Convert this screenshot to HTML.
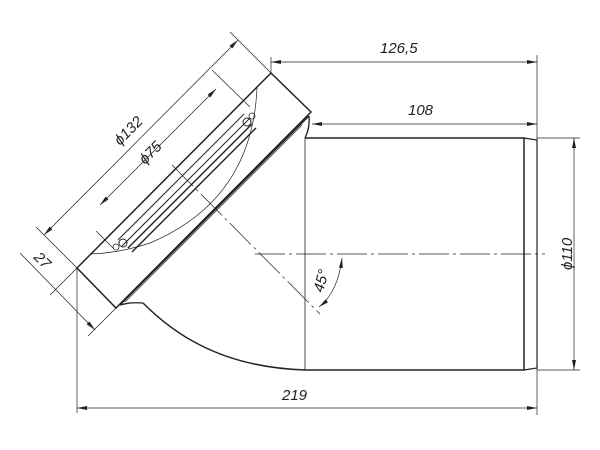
<!DOCTYPE html>
<html><head><meta charset="utf-8"><style>body{margin:0;background:#fff}svg{display:block}</style></head>
<body>
<svg width="600" height="450" viewBox="0 0 600 450" xmlns="http://www.w3.org/2000/svg" font-family="Liberation Sans, sans-serif" font-style="italic">
<defs>
<marker id="a" viewBox="0 0 10 4" refX="10" refY="2" markerWidth="10" markerHeight="4" orient="auto-start-reverse" markerUnits="userSpaceOnUse"><path d="M0,0L10,2L0,4z" fill="#222"/></marker>
</defs>
<g stroke="#222" fill="none">
<path d="M77,268 L271,73 L311,112 L116,308 Z" stroke-width="1.5"/>
<path d="M309,116 Q310,128 305,138" stroke-width="1.3"/>
<path d="M309,116 L120,305 Q130,302 143,303" stroke-width="1.3"/>
<path d="M302,125 L125,302" stroke-width="0.7"/>
<path d="M143,303 Q170,330 200,345 Q245,368 305,370" stroke-width="1.5"/>
<line x1="305" y1="138" x2="305" y2="370" stroke-width="0.8"/>
<path d="M305,138 L524,138 L524,370 L305,370" stroke-width="1.5"/>
<path d="M524,138 L537,140 L537,368 L524,370" stroke-width="1.2"/>
<path d="M257,88 Q252,200 150,243 Q120,253 90,254" stroke-width="0.7"/>
<g stroke-width="1">
<line x1="118" y1="240" x2="244" y2="114"/>
<line x1="122" y1="246" x2="250" y2="118"/>
<line x1="128" y1="248" x2="252" y2="124" stroke-width="1.4"/>
<line x1="132" y1="252" x2="256" y2="128" stroke-width="1.4"/>
</g>
<circle cx="123" cy="243" r="4" stroke-width="1"/>
<circle cx="116" cy="247" r="3" stroke-width="0.8"/>
<circle cx="247" cy="122" r="4" stroke-width="1"/>
<circle cx="252" cy="116" r="3" stroke-width="0.8"/>
<g stroke-width="0.7" stroke-dasharray="30,4,3,4">
<line x1="172" y1="165" x2="320" y2="314"/>
<line x1="255" y1="254" x2="545" y2="254"/>
</g>
<g stroke-width="0.7">
<line x1="77" y1="268" x2="36" y2="227"/>
<line x1="271" y1="73" x2="230" y2="32"/>
<line x1="44" y1="235" x2="238" y2="40" marker-start="url(#a)" marker-end="url(#a)"/>
<line x1="100" y1="205" x2="216" y2="89" marker-start="url(#a)" marker-end="url(#a)"/>
<line x1="113" y1="248" x2="96" y2="231"/>
<line x1="250" y1="107" x2="212" y2="70"/>
<line x1="20" y1="253" x2="95" y2="330" marker-end="url(#a)"/>
<line x1="116" y1="308" x2="88" y2="336"/>
<line x1="77" y1="268" x2="50" y2="295"/>
<line x1="77" y1="268" x2="77" y2="413"/>
<line x1="537" y1="55" x2="537" y2="415"/>
<line x1="271" y1="73" x2="271" y2="57"/>
<line x1="271" y1="62" x2="537" y2="62" marker-start="url(#a)" marker-end="url(#a)"/>
<line x1="312" y1="124" x2="537" y2="124" marker-start="url(#a)" marker-end="url(#a)"/>
<line x1="77" y1="408" x2="537" y2="408" marker-start="url(#a)" marker-end="url(#a)"/>
<line x1="537" y1="138" x2="580" y2="138"/>
<line x1="537" y1="370" x2="580" y2="370"/>
<line x1="574" y1="138" x2="574" y2="370" marker-start="url(#a)" marker-end="url(#a)"/>
<path d="M342,258 Q338,292 319,307" marker-start="url(#a)" marker-end="url(#a)"/>
</g>
</g>
<g fill="#222" font-size="15">
<text x="380" y="53">126,5</text>
<text x="408" y="115">108</text>
<text x="282" y="400">219</text>
<text transform="translate(572,270) rotate(-90)">ϕ110</text>
<text transform="translate(323,293) rotate(-75)">45°</text>
<text transform="translate(120,146) rotate(-45)">ϕ132</text>
<text transform="translate(145,165) rotate(-45)">ϕ75</text>
<text transform="translate(33,258) rotate(45)">27</text>
</g>
</svg>
</body></html>
